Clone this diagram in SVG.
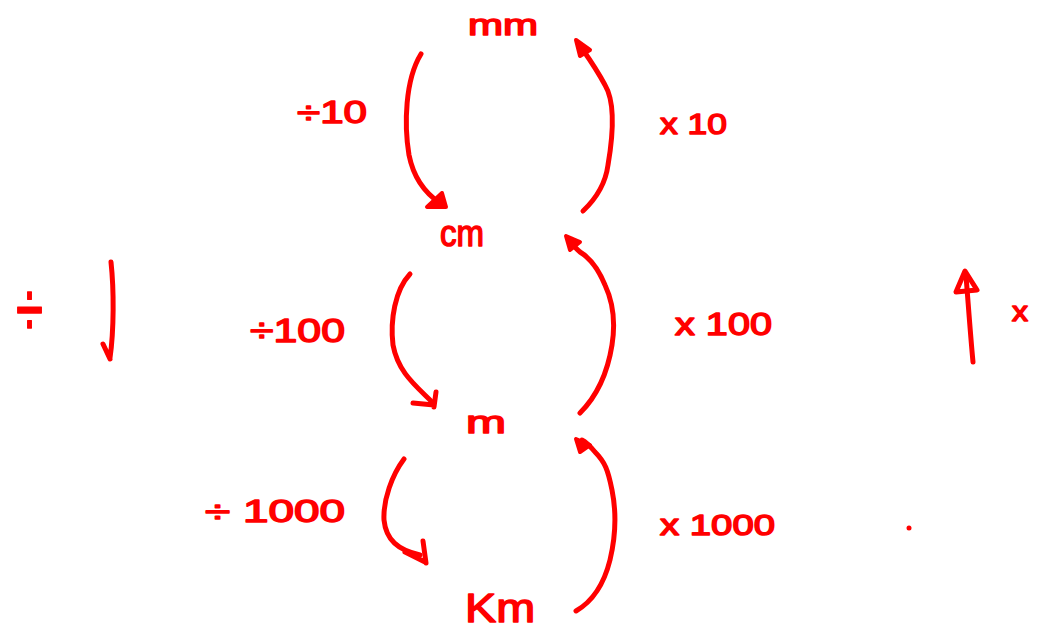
<svg xmlns="http://www.w3.org/2000/svg" width="1041" height="632" viewBox="0 0 1041 632">
<style>
.t{font-family:"Liberation Sans",Arial,sans-serif;fill:#ff0000;stroke:#ff0000;stroke-width:1.5;stroke-linejoin:round}
.c{fill:none;stroke:#ff0000;stroke-width:5;stroke-linecap:round;stroke-linejoin:round}
.h{fill:#ff0000;stroke:#ff0000;stroke-width:4;stroke-linejoin:round}
</style>
<rect width="1041" height="632" fill="#ffffff"/>
<g id="node-mm"><text class="t" x="468" y="35" font-size="30" textLength="70" lengthAdjust="spacingAndGlyphs">mm</text></g>
<g id="node-cm"><text class="t" x="440" y="246" font-size="36" textLength="44" lengthAdjust="spacingAndGlyphs">cm</text></g>
<g id="node-m"><text class="t" x="466" y="433" font-size="32" textLength="40" lengthAdjust="spacingAndGlyphs">m</text></g>
<g id="node-km"><text class="t" x="465" y="622" font-size="40" textLength="70" lengthAdjust="spacingAndGlyphs">Km</text></g>
<g id="labels">
<text class="t" x="297" y="123" font-size="32" textLength="70" lengthAdjust="spacingAndGlyphs">÷10</text>
<text class="t" x="660" y="134" font-size="30" textLength="67" lengthAdjust="spacingAndGlyphs">x 10</text>
<text class="t" x="250" y="342" font-size="34" textLength="95" lengthAdjust="spacingAndGlyphs">÷100</text>
<text class="t" x="675" y="335" font-size="32" textLength="97" lengthAdjust="spacingAndGlyphs">x 100</text>
<text class="t" x="205" y="522" font-size="32" textLength="140" lengthAdjust="spacingAndGlyphs">÷ 1000</text>
<text class="t" x="660" y="535" font-size="30" textLength="115" lengthAdjust="spacingAndGlyphs">x 1000</text>
<text class="t" x="16" y="337" font-size="80" textLength="27" lengthAdjust="spacingAndGlyphs">÷</text>
<text class="t" x="1012" y="321" font-size="28" textLength="16" lengthAdjust="spacingAndGlyphs">x</text>
<circle cx="909" cy="528" r="2.5" fill="#ff0000"/>
</g>
<g id="connectors">
<path class="c" d="M421,54 C405,80 404,125 409,155 C414,180 428,195 440,203"/>
<path class="h" d="M427,207 L446,207 L442,193 Z" fill="none"/>
<path class="c" d="M583,211 C600,195 606,180 608,165 C614,130 614,100 605,85 C598,72 590,60 583,50"/>
<path class="h" d="M576,40 L590,50 L580,56 Z"/>
<path class="c" d="M410,274 C395,290 390,320 393,345 C398,372 415,385 432,402"/>
<path class="c" d="M413,403 L434,405 M436,392 L434,407"/>
<path class="c" d="M580,413 C598,395 608,370 612,345 C616,320 612,300 605,285 C598,268 590,258 580,252 C575,248 572,244 570,240"/>
<path class="h" d="M566,236 L580,242 L570,250 Z"/>
<path class="c" d="M404,459 C392,475 383,500 384,520 C386,540 398,550 420,555"/>
<path class="c" d="M405,552 L425,562 M423,541 L426,563"/>
<path class="c" d="M576,611 C595,600 605,580 610,560 C616,535 616,510 612,490 C608,470 605,462 595,452 C590,446 586,442 582,440"/>
<path class="h" d="M576,439 L590,445 L580,452 Z"/>
<path class="c" d="M111,262 C114,290 114,330 110,358 M103,344 L110,359"/>
<path class="c" d="M973,362 C970,330 968,300 966,276"/>
<path class="c" d="M956,292 L965,271 L977,290 Z"/>
</g>
</svg>
